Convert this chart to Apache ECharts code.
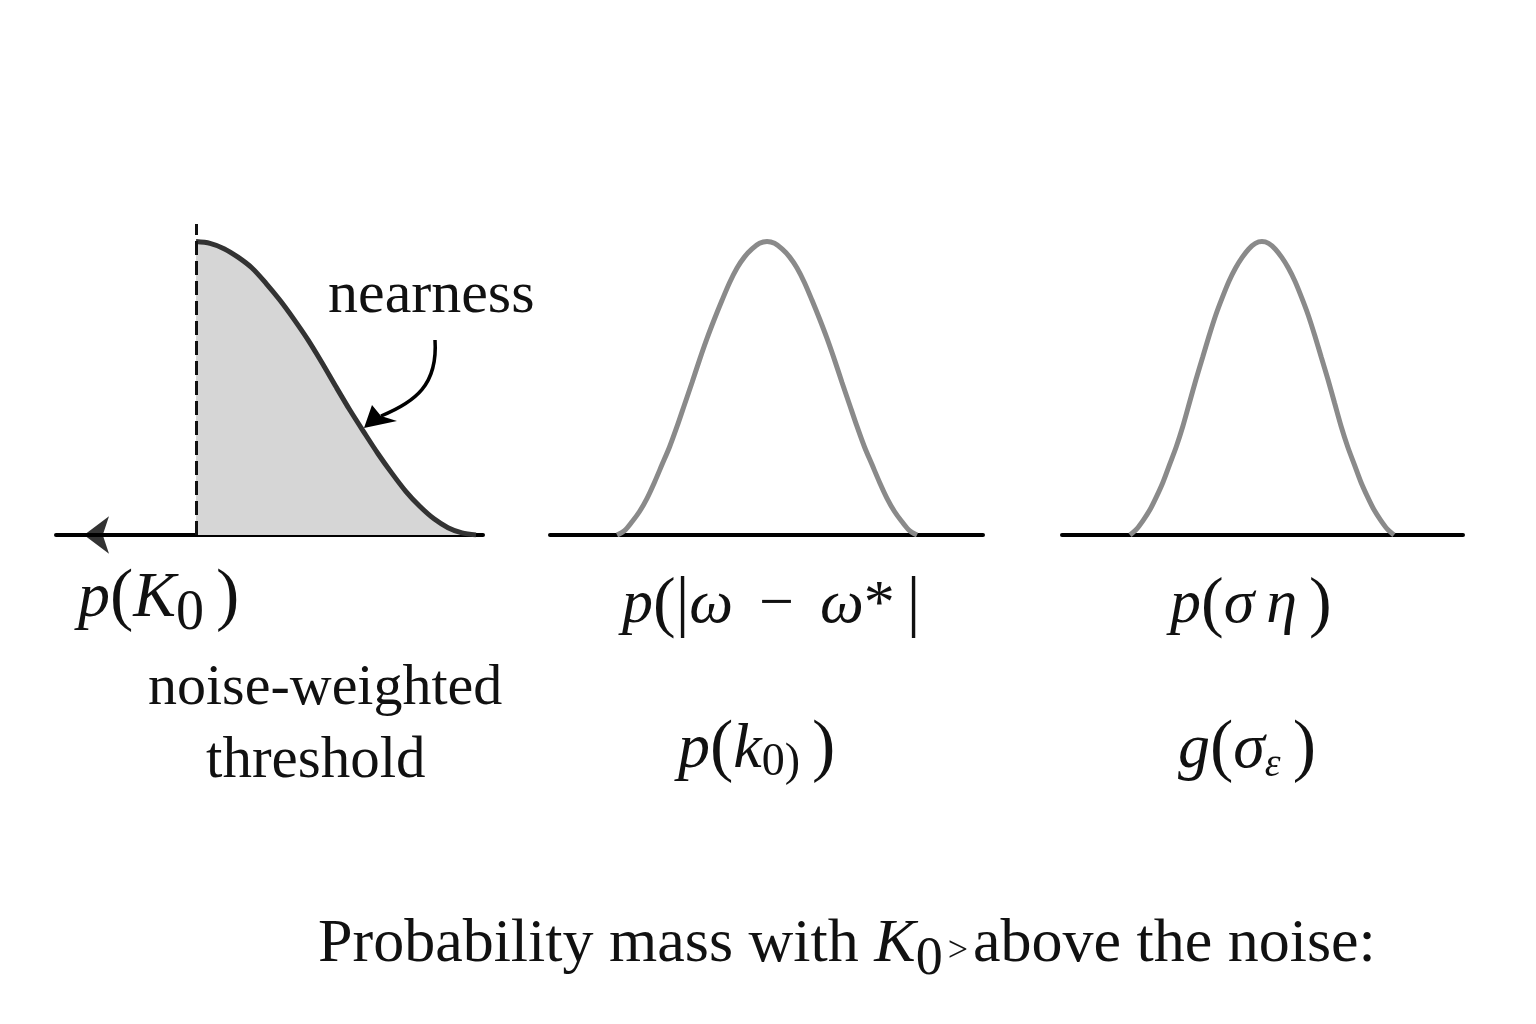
<!DOCTYPE html>
<html>
<head>
<meta charset="utf-8">
<script src="https://cdn.jsdelivr.net/npm/echarts@6/dist/echarts.min.js"></script>
<style>html,body{margin:0;padding:0;background:#fff;}#c{width:1536px;height:1024px;}</style>
</head>
<body>
<div id="c"></div>
<script>
// ---- data ----
// left panel: one-sided curve from the dashed threshold (x=0) to its end (x=1)
const leftX = [0, 0.05, 0.1, 0.15, 0.2, 0.25, 0.3, 0.35, 0.4, 0.45, 0.5, 0.55, 0.6, 0.65, 0.7, 0.75, 0.8, 0.85, 0.9, 0.95, 1.0];
const leftY = [1, 0.994, 0.976, 0.947, 0.91, 0.858, 0.80, 0.735, 0.665, 0.587, 0.505, 0.425, 0.35, 0.277, 0.21, 0.148, 0.097, 0.055, 0.025, 0.007, 0];
// middle and right panels: symmetric bumps, x in half-widths from centre
const bellX = [-1, -0.95, -0.9, -0.85, -0.8, -0.75, -0.7, -0.65, -0.6, -0.55, -0.5, -0.45, -0.4, -0.35, -0.3, -0.25, -0.2, -0.15, -0.1, -0.05,
  0, 0.05, 0.1, 0.15, 0.2, 0.25, 0.3, 0.35, 0.4, 0.45, 0.5, 0.55, 0.6, 0.65, 0.7, 0.75, 0.8, 0.85, 0.9, 0.95, 1];
const midY = [0, 0.015, 0.045, 0.08, 0.125, 0.18, 0.24, 0.30, 0.37, 0.445, 0.52, 0.597, 0.67, 0.737, 0.80, 0.86, 0.91, 0.948, 0.975, 0.994,
  1, 0.994, 0.975, 0.948, 0.91, 0.86, 0.80, 0.737, 0.67, 0.597, 0.52, 0.445, 0.37, 0.30, 0.24, 0.18, 0.125, 0.08, 0.045, 0.015, 0];
const rightY = [0, 0.02, 0.05, 0.085, 0.13, 0.18, 0.24, 0.30, 0.37, 0.45, 0.53, 0.605, 0.68, 0.75, 0.81, 0.865, 0.91, 0.946, 0.975, 0.994,
  1, 0.994, 0.975, 0.946, 0.91, 0.865, 0.81, 0.75, 0.68, 0.605, 0.53, 0.45, 0.37, 0.30, 0.24, 0.18, 0.13, 0.085, 0.05, 0.02, 0];
const thresholdX = 0;
const arrowPoint = [-0.4, 0];

const FONT = '"Liberation Serif", "DejaVu Serif", serif';

function zip(xs, ys) { return xs.map((x, i) => [x, ys[i]]); }

function rich(size) {
  const base = { fontFamily: FONT, fontWeight: 'normal', color: '#111', lineHeight: 66 };
  return {
    i: Object.assign({}, base, { fontStyle: 'italic', fontSize: size }),
    r: Object.assign({}, base, { fontSize: size + 6 }),
    n: Object.assign({}, base, { fontSize: size }),
    g: Object.assign({}, base, { fontSize: size, width: 26 }),
    h: Object.assign({}, base, { fontSize: size, width: 12 }),
    s: Object.assign({}, base, { fontSize: size - 8, padding: [30, 0, 0, 0] }),
    s2: Object.assign({}, base, { fontSize: size - 18, padding: [26, 0, 0, 0] }),
    ss: Object.assign({}, base, { fontStyle: 'italic', fontSize: size - 24, padding: [30, 0, 0, 0] }),
    sm: Object.assign({}, base, { fontSize: size - 26, padding: [14, 0, 0, 0] })
  };
}
function label(left, top, text, size) {
  return { left: left, top: top, padding: 0, text: text, textStyle: { fontWeight: 'normal', rich: rich(size) } };
}

const axisCommon = {
  type: 'value',
  axisTick: { show: false },
  axisLabel: { show: false },
  splitLine: { show: false },
  axisLine: { show: true, onZero: false, lineStyle: { color: '#000', width: 4 } }
};
const yCommon = { type: 'value', min: 0, max: 1.06, show: false };

const chart = echarts.init(document.getElementById('c'));
chart.setOption({
  backgroundColor: '#fff',
  animation: false,
  grid: [
    { left: 56, width: 427, top: 224, bottom: 489 },
    { left: 550, width: 433, top: 224, bottom: 489 },
    { left: 1062, width: 401, top: 224, bottom: 489 }
  ],
  xAxis: [
    Object.assign({ gridIndex: 0, min: -0.5, max: 1.025 }, axisCommon),
    Object.assign({ gridIndex: 1, min: -1.447, max: 1.44 }, axisCommon),
    Object.assign({ gridIndex: 2, min: -1.515, max: 1.523 }, axisCommon)
  ],
  yAxis: [
    Object.assign({ gridIndex: 0 }, yCommon),
    Object.assign({ gridIndex: 1 }, yCommon),
    Object.assign({ gridIndex: 2 }, yCommon)
  ],
  series: [
    {
      type: 'line', xAxisIndex: 0, yAxisIndex: 0, smooth: 0.3, symbol: 'none',
      data: zip(leftX, leftY),
      lineStyle: { color: '#333', width: 5 },
      areaStyle: { color: '#d6d6d6', opacity: 1 },
      markLine: {
        silent: true, symbol: ['none', 'none'], label: { show: false },
        lineStyle: { color: '#111', width: 3, type: [14, 6] },
        data: [{ xAxis: thresholdX }]
      },
      z: 3
    },
    {
      type: 'scatter', xAxisIndex: 0, yAxisIndex: 0,
      data: [arrowPoint], symbol: 'arrow', symbolRotate: 90, symbolSize: [28, 25],
      itemStyle: { color: '#000' }, z: 4
    },
    {
      type: 'line', xAxisIndex: 1, yAxisIndex: 1, smooth: 0.3, symbol: 'none',
      data: zip(bellX, midY),
      lineStyle: { color: '#8a8a8a', width: 5 }
    },
    {
      type: 'line', xAxisIndex: 2, yAxisIndex: 2, smooth: 0.3, symbol: 'none',
      data: zip(bellX, rightY),
      lineStyle: { color: '#8a8a8a', width: 5 }
    }
  ],
  title: [
    label(78, 566, '{i|p}{r|(}{i|K}{s|0}{h| }{r|)}', 64),
    label(328, 263, '{n|nearness}', 60),
    label(148, 656, '{n|noise-weighted}', 58),
    label(206, 728, '{n|threshold}', 59),
    label(622, 573, '{i|p}{r|(|}{i|ω}{g| }{n|−}{g| }{i|ω}{n|*}{h| }{r||}', 62),
    label(678, 717, '{i|p}{r|(}{i|k}{s2|0)}{h| }{r|)}', 64),
    label(1170, 573, '{i|p}{r|(}{i|σ}{h| }{i|η}{h| }{r|)}', 62),
    label(1178, 717, '{i|g}{r|(}{i|σ}{ss|ε}{h| }{r|)}', 64),
    label(318, 912, '{n|Probability mass with }{i|K}{s|0} {sm|>} {n|above the noise:}', 62)
  ],
  graphic: [
    {
      type: 'bezierCurve',
      shape: { x1: 435, y1: 340, cpx1: 438, cpy1: 385, cpx2: 415, cpy2: 402, x2: 381, y2: 416 },
      style: { stroke: '#000', lineWidth: 3.5, fill: null }
    },
    {
      type: 'polygon',
      shape: { points: [[364, 428], [372, 405], [381, 416], [397, 421]] },
      style: { fill: '#000' }
    }
  ]
});
</script>
</body>
</html>
